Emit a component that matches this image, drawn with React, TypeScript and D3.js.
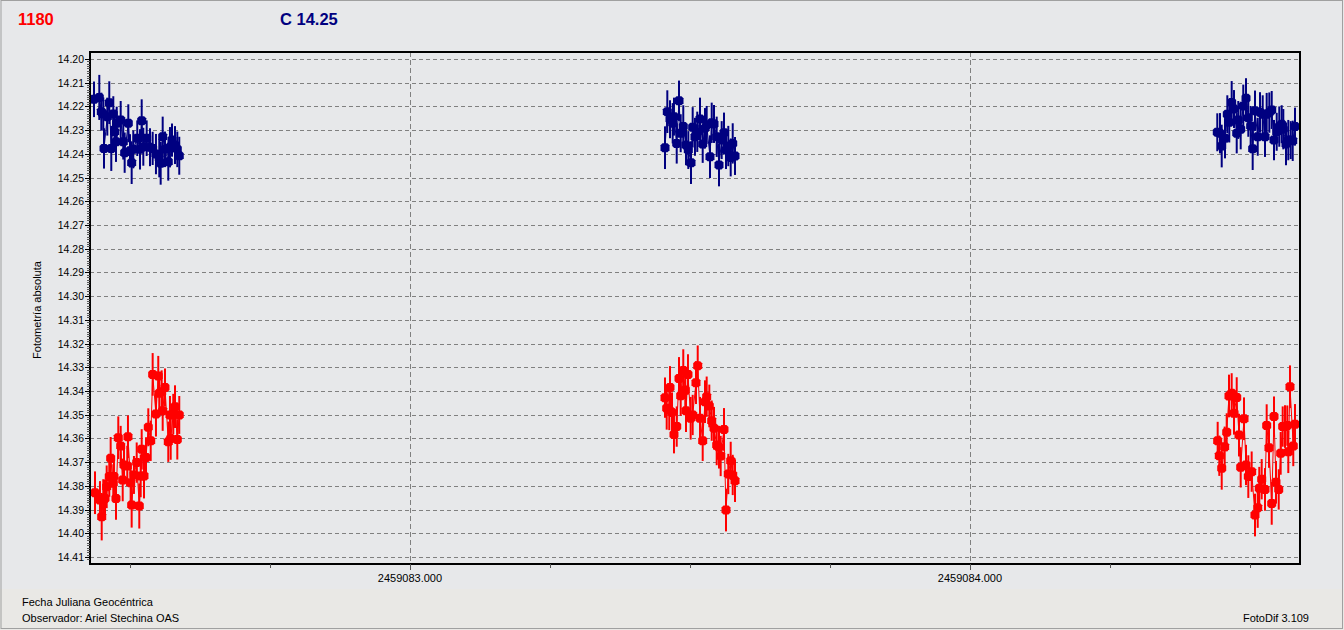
import React from "react";
import * as d3 from "d3";

type Pt = [number, number, number]; // [JD, magnitude, error]

const titleVar = "1180";
const titleComp = "C 14.25";
const yLabel = "Fotometría absoluta";
const xLabel = "Fecha Juliana Geocéntrica";
const observer = "Observador: Ariel Stechina OAS";
const software = "FotoDif 3.109";

const yTicks = [14.2, 14.21, 14.22, 14.23, 14.24, 14.25, 14.26, 14.27, 14.28, 14.29, 14.3, 14.31, 14.32, 14.33, 14.34, 14.35, 14.36, 14.37, 14.38, 14.39, 14.4, 14.41];
const xMajor = [2459083.0, 2459084.0];
const xMinor = [2459082.5, 2459082.75, 2459083.25, 2459083.5, 2459083.75, 2459084.25, 2459084.5];

const blueLeft: Pt[] = [
  [2459082.4357, 14.2170, 0.0075], [2459082.4452, 14.2162, 0.0095], [2459082.4488, 14.2222, 0.0080],
  [2459082.4523, 14.2232, 0.0070], [2459082.4536, 14.2377, 0.0085], [2459082.4595, 14.2243, 0.0080],
  [2459082.4630, 14.2184, 0.0090], [2459082.4666, 14.2377, 0.0095], [2459082.4702, 14.2232, 0.0075],
  [2459082.4727, 14.2307, 0.0080], [2459082.4750, 14.2349, 0.0085], [2459082.4763, 14.2271, 0.0070],
  [2459082.4834, 14.2257, 0.0080], [2459082.4880, 14.2349, 0.0075], [2459082.4905, 14.2395, 0.0085],
  [2459082.4970, 14.2271, 0.0080], [2459082.5000, 14.2387, 0.0070], [2459082.5030, 14.2437, 0.0090],
  [2459082.5059, 14.2381, 0.0080], [2459082.5130, 14.2334, 0.0075], [2459082.5179, 14.2381, 0.0085],
  [2459082.5209, 14.2260, 0.0090], [2459082.5238, 14.2370, 0.0080], [2459082.5298, 14.2334, 0.0075],
  [2459082.5357, 14.2372, 0.0080], [2459082.5405, 14.2377, 0.0070], [2459082.5464, 14.2401, 0.0085],
  [2459082.5523, 14.2419, 0.0080], [2459082.5548, 14.2440, 0.0090], [2459082.5584, 14.2328, 0.0085],
  [2459082.5625, 14.2381, 0.0075], [2459082.5684, 14.2433, 0.0080], [2459082.5714, 14.2372, 0.0085],
  [2459082.5750, 14.2342, 0.0070], [2459082.5804, 14.2363, 0.0080], [2459082.5845, 14.2381, 0.0075],
  [2459082.5880, 14.2408, 0.0080],
];

const redLeft: Pt[] = [
  [2459082.4375, 14.3829, 0.0090], [2459082.4464, 14.3860, 0.0080], [2459082.4495, 14.3930, 0.0100],
  [2459082.4523, 14.3857, 0.0085], [2459082.4554, 14.3853, 0.0080], [2459082.4584, 14.3804, 0.0090],
  [2459082.4630, 14.3761, 0.0085], [2459082.4655, 14.3684, 0.0090], [2459082.4702, 14.3789, 0.0080],
  [2459082.4714, 14.3761, 0.0085], [2459082.4750, 14.3853, 0.0090], [2459082.4791, 14.3597, 0.0090],
  [2459082.4834, 14.3632, 0.0085], [2459082.4870, 14.3775, 0.0090], [2459082.4893, 14.3712, 0.0080],
  [2459082.4952, 14.3716, 0.0085], [2459082.4964, 14.3593, 0.0090], [2459082.5012, 14.3787, 0.0085],
  [2459082.5030, 14.3881, 0.0095], [2459082.5071, 14.3754, 0.0080], [2459082.5120, 14.3702, 0.0085],
  [2459082.5166, 14.3885, 0.0095], [2459082.5191, 14.3758, 0.0090], [2459082.5209, 14.3646, 0.0085],
  [2459082.5250, 14.3758, 0.0095], [2459082.5286, 14.3680, 0.0085], [2459082.5327, 14.3553, 0.0080],
  [2459082.5370, 14.3610, 0.0085], [2459082.5405, 14.3330, 0.0090], [2459082.5464, 14.3497, 0.0095],
  [2459082.5505, 14.3337, 0.0085], [2459082.5523, 14.3410, 0.0080], [2459082.5566, 14.3403, 0.0090],
  [2459082.5584, 14.3483, 0.0085], [2459082.5625, 14.3385, 0.0080], [2459082.5684, 14.3614, 0.0085],
  [2459082.5714, 14.3501, 0.0080], [2459082.5727, 14.3600, 0.0090], [2459082.5773, 14.3497, 0.0085],
  [2459082.5804, 14.3466, 0.0090], [2459082.5845, 14.3604, 0.0085], [2459082.5880, 14.3501, 0.0080],
];

const blueMid: Pt[] = [
  [2459083.4554, 14.2374, 0.0090], [2459083.4595, 14.2222, 0.0090], [2459083.4643, 14.2254, 0.0080],
  [2459083.4691, 14.2271, 0.0085], [2459083.4714, 14.2243, 0.0080], [2459083.4763, 14.2356, 0.0085],
  [2459083.4804, 14.2176, 0.0085], [2459083.4834, 14.2313, 0.0080], [2459083.4880, 14.2285, 0.0090],
  [2459083.4929, 14.2363, 0.0085], [2459083.4970, 14.2384, 0.0080], [2459083.5018, 14.2437, 0.0090],
  [2459083.5048, 14.2288, 0.0085], [2459083.5089, 14.2328, 0.0080], [2459083.5130, 14.2307, 0.0085],
  [2459083.5179, 14.2253, 0.0090], [2459083.5227, 14.2358, 0.0080], [2459083.5268, 14.2292, 0.0085],
  [2459083.5298, 14.2278, 0.0080], [2459083.5357, 14.2412, 0.0090], [2459083.5388, 14.2269, 0.0085],
  [2459083.5429, 14.2274, 0.0080], [2459083.5477, 14.2328, 0.0085], [2459083.5518, 14.2447, 0.0090],
  [2459083.5566, 14.2342, 0.0080], [2459083.5607, 14.2311, 0.0085], [2459083.5643, 14.2384, 0.0080],
  [2459083.5684, 14.2367, 0.0085], [2459083.5727, 14.2415, 0.0080], [2459083.5763, 14.2356, 0.0085],
  [2459083.5804, 14.2409, 0.0080],
];

const redMid: Pt[] = [
  [2459083.4554, 14.3428, 0.0085], [2459083.4584, 14.3473, 0.0090], [2459083.4630, 14.3480, 0.0085],
  [2459083.4643, 14.3385, 0.0090], [2459083.4679, 14.3491, 0.0085], [2459083.4714, 14.3583, 0.0080],
  [2459083.4763, 14.3550, 0.0085], [2459083.4804, 14.3347, 0.0090], [2459083.4834, 14.3420, 0.0085],
  [2459083.4880, 14.3314, 0.0090], [2459083.4916, 14.3396, 0.0085], [2459083.4929, 14.3483, 0.0090],
  [2459083.4964, 14.3330, 0.0085], [2459083.5012, 14.3515, 0.0090], [2459083.5048, 14.3501, 0.0085],
  [2459083.5107, 14.3365, 0.0090], [2459083.5138, 14.3293, 0.0085], [2459083.5179, 14.3515, 0.0090],
  [2459083.5227, 14.3610, 0.0085], [2459083.5268, 14.3445, 0.0090], [2459083.5298, 14.3424, 0.0085],
  [2459083.5345, 14.3463, 0.0090], [2459083.5388, 14.3525, 0.0085], [2459083.5429, 14.3557, 0.0090],
  [2459083.5477, 14.3628, 0.0085], [2459083.5518, 14.3637, 0.0090], [2459083.5548, 14.3674, 0.0085],
  [2459083.5607, 14.3562, 0.0090], [2459083.5643, 14.3902, 0.0090], [2459083.5684, 14.3750, 0.0085],
  [2459083.5727, 14.3694, 0.0080], [2459083.5763, 14.3754, 0.0085], [2459083.5804, 14.3778, 0.0090],
];

const blueRight: Pt[] = [
  [2459084.4416, 14.2309, 0.0080], [2459084.4464, 14.2313, 0.0085], [2459084.4495, 14.2367, 0.0090],
  [2459084.4554, 14.2334, 0.0085], [2459084.4595, 14.2233, 0.0080], [2459084.4630, 14.2267, 0.0085],
  [2459084.4673, 14.2183, 0.0090], [2459084.4714, 14.2211, 0.0080], [2459084.4763, 14.2313, 0.0085],
  [2459084.4791, 14.2257, 0.0080], [2459084.4834, 14.2296, 0.0085], [2459084.4880, 14.2198, 0.0090],
  [2459084.4929, 14.2166, 0.0085], [2459084.4970, 14.2248, 0.0080], [2459084.5012, 14.2283, 0.0085],
  [2459084.5048, 14.2378, 0.0090], [2459084.5089, 14.2218, 0.0085], [2459084.5138, 14.2328, 0.0080],
  [2459084.5179, 14.2225, 0.0085], [2459084.5227, 14.2233, 0.0080], [2459084.5268, 14.2328, 0.0085],
  [2459084.5298, 14.2233, 0.0090], [2459084.5345, 14.2226, 0.0085], [2459084.5388, 14.2215, 0.0080],
  [2459084.5429, 14.2342, 0.0085], [2459084.5477, 14.2307, 0.0080], [2459084.5523, 14.2285, 0.0085],
  [2459084.5566, 14.2275, 0.0080], [2459084.5595, 14.2296, 0.0085], [2459084.5643, 14.2358, 0.0090],
  [2459084.5684, 14.2342, 0.0085], [2459084.5727, 14.2342, 0.0080], [2459084.5763, 14.2345, 0.0085],
  [2459084.5804, 14.2285, 0.0080],
];

const redRight: Pt[] = [
  [2459084.4423, 14.3610, 0.0080], [2459084.4452, 14.3673, 0.0085], [2459084.4495, 14.3726, 0.0090],
  [2459084.4548, 14.3635, 0.0085], [2459084.4584, 14.3574, 0.0080], [2459084.4625, 14.3421, 0.0090],
  [2459084.4673, 14.3410, 0.0085], [2459084.4714, 14.3494, 0.0090], [2459084.4763, 14.3427, 0.0085],
  [2459084.4804, 14.3586, 0.0090], [2459084.4834, 14.3722, 0.0085], [2459084.4893, 14.3517, 0.0090],
  [2459084.4929, 14.3712, 0.0085], [2459084.4970, 14.3761, 0.0090], [2459084.5030, 14.3740, 0.0085],
  [2459084.5089, 14.3923, 0.0090], [2459084.5138, 14.3892, 0.0085], [2459084.5166, 14.3810, 0.0090],
  [2459084.5209, 14.3772, 0.0085], [2459084.5268, 14.3815, 0.0090], [2459084.5298, 14.3546, 0.0090],
  [2459084.5339, 14.3639, 0.0085], [2459084.5388, 14.3874, 0.0090], [2459084.5429, 14.3508, 0.0085],
  [2459084.5464, 14.3785, 0.0090], [2459084.5513, 14.3815, 0.0085], [2459084.5548, 14.3663, 0.0090],
  [2459084.5584, 14.3550, 0.0085], [2459084.5625, 14.3550, 0.0090], [2459084.5666, 14.3546, 0.0085],
  [2459084.5684, 14.3656, 0.0090], [2459084.5714, 14.3382, 0.0090], [2459084.5773, 14.3632, 0.0085],
  [2459084.5804, 14.3540, 0.0085],
];

const blueClusters = [blueLeft, blueMid, blueRight];
const redClusters = [redLeft, redMid, redRight];

const W = 1344;
const H = 630;
const L = 90, R = 1300, T = 52, B = 564;

const x = d3.scaleLinear().domain([2459082.4286, 2459084.5893]).range([L, R]);
const y = d3.scaleLinear().domain([14.2, 14.41]).range([59, 557]);

const marker = "M-2.5,-4.5L2.5,-4.5L4.5,-2.5L4.5,2.5L2.5,4.5L-2.5,4.5L-4.5,2.5L-4.5,-2.5Z";
const line = d3.line<Pt>().x((d) => x(d[0])).y((d) => y(d[1]));

const font = "'Liberation Sans', Arial, sans-serif";

function Series({ clusters, color }: { clusters: Pt[][]; color: string }) {
  return (
    <g>
      {clusters.map((c, ci) => (
        <path key={"l" + ci} d={line(c) || ""} fill="none" stroke={color} strokeWidth={1} />
      ))}
      {clusters.flat().map((d, i) => (
        <line key={"e" + i} x1={x(d[0])} x2={x(d[0])} y1={y(d[1] - d[2])} y2={y(d[1] + d[2])} stroke={color} strokeWidth={2} />
      ))}
      {clusters.flat().map((d, i) => (
        <path key={"m" + i} d={marker} transform={`translate(${x(d[0])},${y(d[1])})`} fill={color} />
      ))}
    </g>
  );
}

export default function App() {
  const minorY = d3.range(0, 212).map((i) => 14.2 + i * 0.001).filter((v) => y(v) >= T && y(v) <= B);
  return (
    <svg width={W} height={H} style={{ position: "absolute", left: 0, top: 0 }} fontFamily={font}>
      <rect x={0} y={0} width={W} height={H} fill="#E7E8EA" />
      <rect x={0} y={589} width={W} height={H - 589} fill="#E9E8E5" />
      <rect x={1} y={0.5} width={W - 2.5} height={H - 2} fill="none" stroke="#A0A0A0" strokeWidth={1} />

      <text x={18} y={25} fontSize={16.5} fontWeight="bold" fill="#FF0000">{titleVar}</text>
      <text x={280} y={25} fontSize={16.5} fontWeight="bold" fill="#000080">{titleComp}</text>

      {/* gridlines */}
      {yTicks.map((v) => (
        <line key={"gy" + v} x1={L} x2={R} y1={Math.round(y(v)) + 0.5} y2={Math.round(y(v)) + 0.5} stroke="#808080" strokeWidth={1} strokeDasharray="4,3" />
      ))}
      {xMajor.map((v) => (
        <line key={"gx" + v} x1={Math.round(x(v)) + 0.5} x2={Math.round(x(v)) + 0.5} y1={T} y2={B} stroke="#808080" strokeWidth={1} strokeDasharray="5,3" />
      ))}

      <Series clusters={blueClusters} color="#000080" />
      <Series clusters={redClusters} color="#FF0000" />

      {/* frame */}
      <rect x={L} y={T} width={R - L} height={B - T} fill="none" stroke="#000" strokeWidth={2} />

      {/* y ticks */}
      {minorY.map((v, i) => (
        <line key={"my" + i} x1={L - 3} x2={L} y1={Math.round(y(v)) + 0.5} y2={Math.round(y(v)) + 0.5} stroke="#555" strokeWidth={1} />
      ))}
      {yTicks.map((v) => (
        <g key={"ty" + v}>
          <line x1={L - 5} x2={L} y1={Math.round(y(v)) + 0.5} y2={Math.round(y(v)) + 0.5} stroke="#000" strokeWidth={1} />
          <text x={84} y={y(v) + 4} fontSize={10.5} textAnchor="end" fill="#000">{v.toFixed(2)}</text>
        </g>
      ))}

      {/* x ticks */}
      {xMinor.map((v) => (
        <line key={"mx" + v} x1={Math.round(x(v)) + 0.5} x2={Math.round(x(v)) + 0.5} y1={B} y2={B + 4} stroke="#555" strokeWidth={1} />
      ))}
      {xMajor.map((v) => (
        <g key={"tx" + v}>
          <line x1={Math.round(x(v)) + 0.5} x2={Math.round(x(v)) + 0.5} y1={B} y2={B + 6} stroke="#555" strokeWidth={1} />
          <text x={x(v)} y={582} fontSize={11} textAnchor="middle" fill="#000">{v.toFixed(3)}</text>
        </g>
      ))}

      <text transform={`translate(41,310) rotate(-90)`} fontSize={11} textAnchor="middle" fill="#000">{yLabel}</text>

      <text x={22} y={606} fontSize={11} fill="#000">{xLabel}</text>
      <text x={22} y={622} fontSize={11} fill="#000">{observer}</text>
      <text x={1309} y={622} fontSize={11} textAnchor="end" fill="#000">{software}</text>
    </svg>
  );
}
